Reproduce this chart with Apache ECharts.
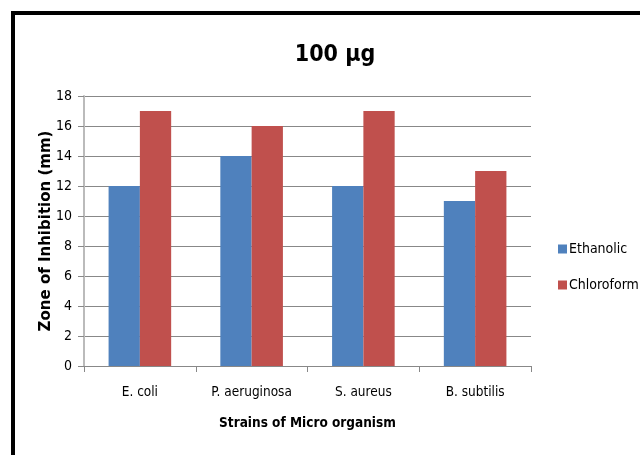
<!DOCTYPE html>
<html><head><meta charset="utf-8">
<script src="https://cdn.jsdelivr.net/npm/echarts@6/dist/echarts.min.js"></script>
<style>
html,body{margin:0;padding:0;background:#fff;}
#frame{position:absolute;left:11px;top:11px;width:629px;height:444px;border-left:4px solid #000;border-top:4px solid #000;box-sizing:border-box;}
#chart{position:absolute;left:0;top:0;width:640px;height:455px;}
</style></head>
<body>
<div id="frame"></div>
<div id="chart"></div>
<script>
var categories = ['E. coli', 'P. aeruginosa', 'S. aureus', 'B. subtilis'];
var ethanolic = [12, 14, 12, 11];
var chloroform = [17, 16, 17, 13];
var seriesNames = ['Ethanolic', 'Chloroform'];
var titleText = '100 µg';
var yName = 'Zone of Inhibition (mm)';
var xName = 'Strains of Micro organism';

var F = '"DejaVu Sans Condensed", "Liberation Sans Narrow", sans-serif';
var chart = echarts.init(document.getElementById('chart'), null, {renderer: 'canvas'});
chart.setOption({
  animation: false,
  title: {text: titleText, left: 330, top: 39, textAlign: 'center',
    textStyle: {fontFamily: F, fontSize: 23, fontWeight: 'bold', color: '#000'}},
  legend: {orient: 'vertical', left: 553, top: 237, itemWidth: 9, itemHeight: 9, itemGap: 22,
    icon: 'rect', textStyle: {fontFamily: F, fontSize: 14, color: '#000', padding: [0,0,0,-3]},
    data: seriesNames},
  grid: {left: 84, top: 96, width: 447, height: 270, containLabel: false},
  xAxis: {type: 'category', data: categories,
    name: xName, nameLocation: 'middle', nameGap: 50, nameMoveOverlap: false,
    nameTextStyle: {fontFamily: F, fontSize: 13.5, fontWeight: 'bold', color: '#000'},
    axisLine: {lineStyle: {color: '#888'}},
    axisTick: {show: true, length: 6, lineStyle: {color: '#888'}},
    axisLabel: {fontFamily: F, fontSize: 13.5, color: '#000', margin: 19}},
  yAxis: {type: 'value', min: 0, max: 18, interval: 2,
    name: yName, nameLocation: 'middle', nameGap: 30, nameMoveOverlap: false,
    nameTextStyle: {fontFamily: '"DejaVu Sans", sans-serif', fontSize: 15, fontWeight: 'bold', color: '#000'},
    axisLine: {show: true, lineStyle: {color: '#bbb', width: 2}},
    axisTick: {show: true, length: 6, inside: false, lineStyle: {color: '#888'}},
    axisLabel: {fontFamily: F, fontSize: 14, color: '#000', margin: 12},
    splitLine: {lineStyle: {color: '#888'}}},
  series: [
    {name: seriesNames[0], type: 'bar', data: ethanolic, barGap: '0%', barCategoryGap: '44%',
     itemStyle: {color: '#4F81BD'}},
    {name: seriesNames[1], type: 'bar', data: chloroform, barGap: '0%', barCategoryGap: '44%',
     itemStyle: {color: '#C0504D'}}
  ]
});
</script>
</body></html>
